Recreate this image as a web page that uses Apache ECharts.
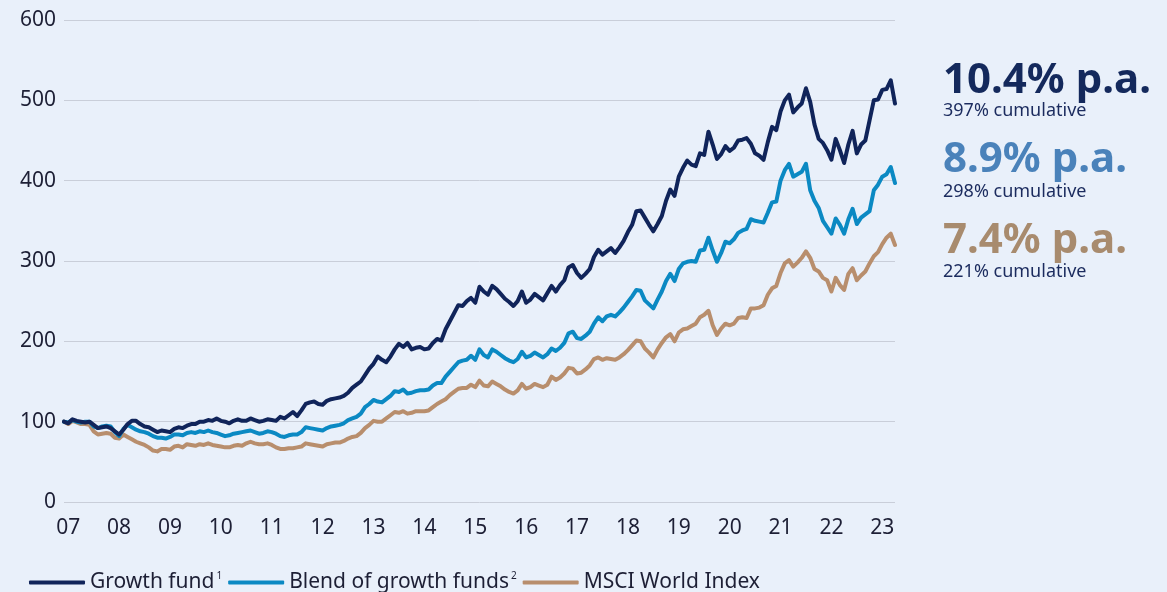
<!DOCTYPE html>
<html>
<head>
<meta charset="utf-8">
<script src="https://cdn.jsdelivr.net/npm/echarts@6/dist/echarts.min.js"></script>
<style>
  html, body { margin: 0; padding: 0; background: #e9f0fa; }
  #chart { width: 1167px; height: 592px; }
</style>
</head>
<body>
<div id="chart"></div>
<script>
// monthly points, Dec 2006 .. Apr 2023 (rebased to 100)
const startYear = 2006, startMonth = 12, monthCount = 197;
const yearLabels = ['07', '08', '09', '10', '11', '12', '13', '14', '15', '16', '17', '18', '19', '20', '21', '22', '23'];

const growthFund = [
  100, 98, 103, 101, 100, 99, 100, 96, 92, 93, 94, 92,
  88, 84, 90, 97, 101, 101, 97, 94, 93, 90, 87, 89,
  88, 87, 91, 93, 92, 95, 97, 97, 100, 100, 102, 101,
  104, 101, 100, 98, 101, 103, 101, 101, 104, 102, 100, 101,
  103, 102, 101, 106, 104, 108, 112, 107, 114, 122, 124, 125,
  122, 121, 126, 128, 129, 130, 132, 136, 142, 146, 150, 158,
  166, 172, 181, 177, 174, 181, 190, 197, 193, 198, 190, 192,
  193, 190, 191, 198, 203, 201, 215, 225, 235, 245, 244, 250,
  254, 248, 268, 262, 258, 269, 265, 259, 253, 249, 244, 250,
  262, 248, 252, 259, 255, 251, 260, 269, 262, 270, 276, 292,
  295, 285, 279, 284, 290, 305, 314, 308, 312, 316, 310, 317,
  325, 336, 345, 362, 363, 354, 345, 337, 346, 356, 375, 389,
  381, 405, 416, 425, 420, 418, 434, 432, 461, 445, 427, 433,
  443, 437, 441, 450, 451, 453, 446, 434, 431, 426, 448, 467,
  463, 486, 500, 507, 485, 491, 496, 515, 498, 470, 452, 447,
  438, 426, 452, 438, 422, 445, 462, 434, 445, 450, 475, 500,
  501, 513, 514, 525, 496
];

const blendFunds = [
  100, 99, 102, 100, 99, 100, 100, 94, 92, 94, 95, 94,
  87, 82, 91, 96, 93, 90, 88, 87, 85, 82, 80, 80,
  79, 81, 84, 84, 83, 86, 87, 86, 88, 87, 89, 87,
  86, 84, 82, 83, 85, 86, 87, 88, 89, 87, 85, 86,
  88, 87, 85, 82, 81, 83, 84, 84, 87, 93, 92, 91,
  90, 89, 92, 94, 95, 96, 98, 102, 104, 106, 110, 118,
  122, 127, 125, 124, 128, 132, 138, 137, 140, 135, 136, 138,
  139, 139, 140, 145, 148, 148, 156, 162, 168, 174, 176, 177,
  182, 177, 190, 183, 180, 190, 187, 183, 179, 176, 174, 178,
  187, 180, 182, 186, 183, 180, 184, 191, 188, 192, 198, 210,
  212, 204, 203, 207, 212, 222, 230, 225, 231, 233, 231, 236,
  242, 249, 256, 264, 263, 251, 246, 241, 252, 262, 275, 284,
  275, 290, 297, 299, 300, 299, 313, 314, 329, 313, 299, 310,
  324, 322, 327, 335, 338, 340, 352, 350, 349, 348, 360, 373,
  374, 400, 413, 421, 405, 408, 411, 421, 388, 375, 366, 350,
  342, 334, 353, 345, 334, 352, 365, 346, 354, 358, 362, 388,
  395, 405, 408, 417, 397
];

const msciWorld = [
  100, 97, 101, 99, 97, 97, 96, 88, 84, 85, 86, 85,
  80, 79, 84, 81, 78, 75, 73, 71, 68, 64, 63, 66,
  66, 65, 69, 70, 68, 72, 71, 70, 72, 71, 73, 71,
  70, 69, 68, 68, 70, 71, 70, 73, 75, 73, 72, 72,
  73, 71, 68, 66, 66, 67, 67, 68, 69, 73, 72, 71,
  70, 69, 72, 73, 74, 74, 76, 79, 81, 82, 86, 92,
  96, 101, 100, 100, 104, 108, 112, 111, 113, 110, 111, 113,
  113, 113, 114, 118, 122, 125, 128, 133, 137, 141, 142, 142,
  146, 143, 151, 145, 144, 150, 147, 144, 140, 137, 135, 139,
  147, 141, 143, 147, 145, 143, 146, 156, 152, 155, 160, 167,
  166, 160, 161, 165, 170, 178, 180, 177, 179, 178, 177, 180,
  184, 189, 195, 201, 200, 191, 186, 180, 190, 198, 205, 209,
  200, 211, 215, 216, 219, 222, 230, 233, 238, 220, 208, 216,
  222, 220, 222, 229, 230, 229, 241, 241, 242, 245, 258, 266,
  269, 285, 297, 301, 293, 298, 304, 312, 304, 290, 287, 279,
  276, 262, 279, 270, 264, 284, 291, 276, 282, 287, 297, 306,
  311, 321, 329, 334, 320
];

const seriesNames = ['Growth fund', 'Blend of growth funds', 'MSCI World Index'];
const seriesSup = ['1', '2', ''];
const lineColors = ['#10245a', '#0b89c3', '#b88e6d'];

const paLabels = ['10.4% p.a.', '8.9% p.a.', '7.4% p.a.'];
const cumLabels = ['397% cumulative', '298% cumulative', '221% cumulative'];
const paColors = ['#14295c', '#4a82ba', '#a88b6e'];

// month categories like "2007-01"
const months = [];
for (let k = 0; k < monthCount; k++) {
  const m = (startMonth - 1 + k) % 12 + 1;
  const y = startYear + Math.floor((startMonth - 1 + k) / 12);
  months.push(y + '-' + (m < 10 ? '0' + m : m));
}

const chart = echarts.init(document.getElementById('chart'));
const font = '"Noto Sans", sans-serif';
const textColor = '#1d1f35';

const graphics = [];
paLabels.forEach((t, i) => {
  graphics.push({
    type: 'text', left: 943, top: [60, 139, 220][i],
    style: { text: t, font: 'bold 42px ' + font, fill: paColors[i] }
  });
  graphics.push({
    type: 'text', left: 943, top: [102, 183, 263][i],
    style: { text: cumLabels[i], font: '18px ' + font, fill: '#1b2b5e' }
  });
});

const option = {
  backgroundColor: '#e9f0fa',
  textStyle: { fontFamily: font },
  animation: false,
  grid: { left: 64, right: 272, top: 20, bottom: 90 },
  xAxis: {
    type: 'category',
    data: months,
    boundaryGap: false,
    axisLine: { show: false },
    axisTick: { show: false },
    axisLabel: {
      interval: (idx, val) => val.slice(5) === '01',
      formatter: (val) => yearLabels[parseInt(val.slice(0, 4)) - 2007],
      fontSize: 21, color: textColor, margin: 16
    },
    splitLine: { show: false }
  },
  yAxis: {
    type: 'value',
    min: 0, max: 600, interval: 100,
    axisLine: { show: false },
    axisTick: { show: false },
    axisLabel: { fontSize: 21, color: textColor, margin: 8 },
    splitLine: { lineStyle: { color: '#c9ced9', width: 1 } }
  },
  legend: {
    left: 24, top: 566,
    icon: 'roundRect',
    itemWidth: 56, itemHeight: 4, itemGap: 6,
    data: seriesNames,
    formatter: (name) => {
      const i = seriesNames.indexOf(name);
      return seriesSup[i] ? '{t|' + name + '}{s|' + seriesSup[i] + '}' : '{t|' + name + '}';
    },
    textStyle: {
      color: textColor,
      rich: {
        t: { fontSize: 21, color: textColor, fontFamily: font },
        s: { fontSize: 10, color: textColor, fontFamily: font, verticalAlign: 'bottom', padding: [0, 0, 13, 2] }
      }
    }
  },
  graphic: graphics,
  series: [
    { name: seriesNames[0], data: growthFund, z: 4 },
    { name: seriesNames[1], data: blendFunds, z: 3 },
    { name: seriesNames[2], data: msciWorld, z: 2 }
  ].map((s, i) => Object.assign({
    type: 'line',
    showSymbol: false,
    smooth: false,
    color: lineColors[i],
    lineStyle: { width: 4, color: lineColors[i], cap: 'round', join: 'round' }
  }, s))
};

chart.setOption(option);
</script>
</body>
</html>
